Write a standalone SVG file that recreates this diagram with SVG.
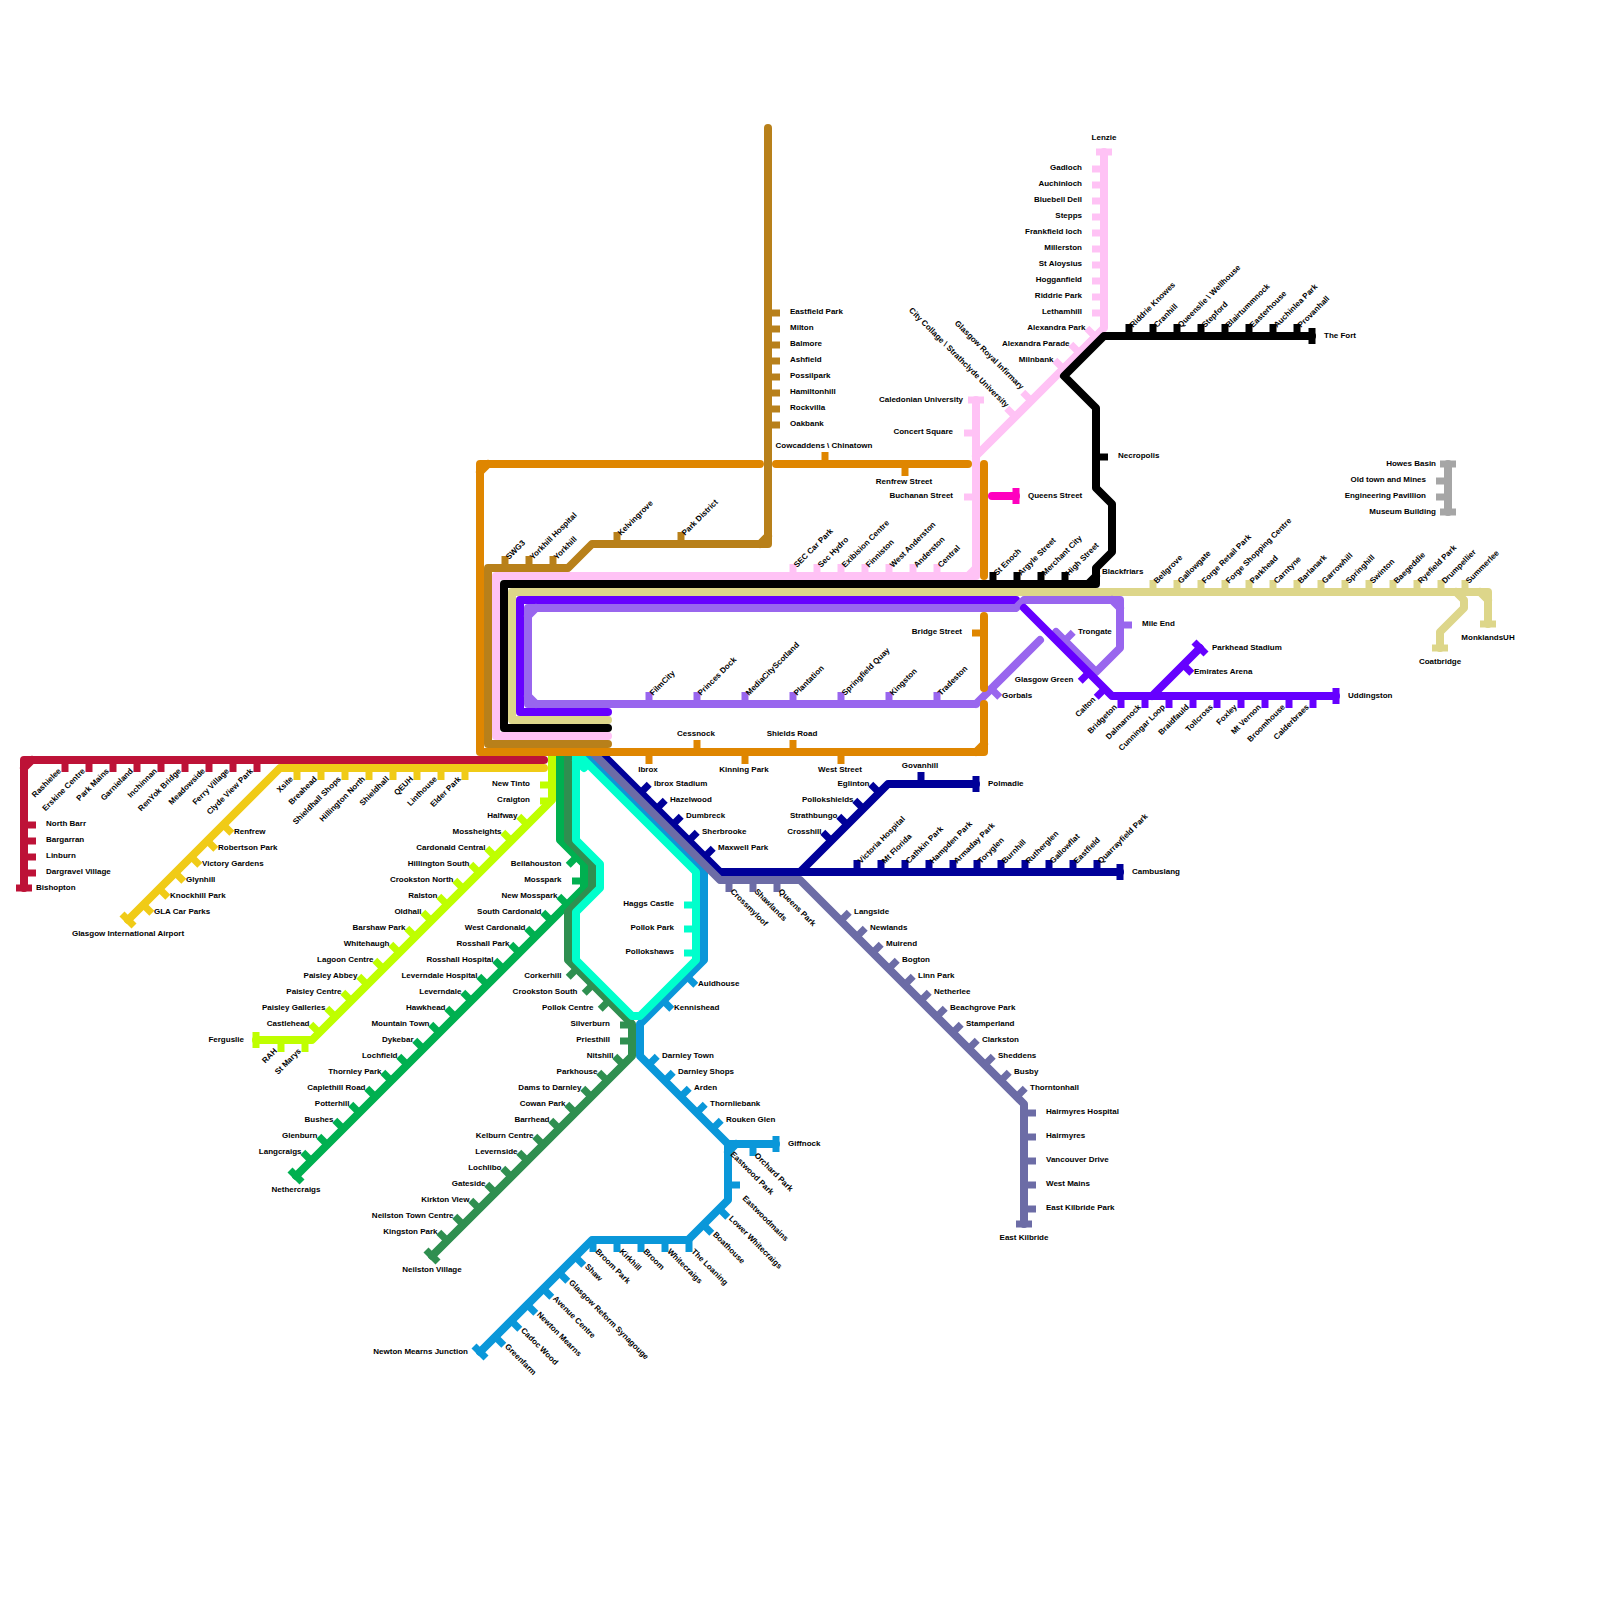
<svg xmlns="http://www.w3.org/2000/svg" width="1600" height="1600" viewBox="0 0 1600 1600">
<style>
rect.bg{fill:#fff}
.l{fill:none;stroke-width:8;stroke-linecap:round;stroke-linejoin:round}
.k{fill:none;stroke-width:7}
.v{transform:translateX(1px)}.h{transform:translateY(1px)}.sw{transform:translate(-.7px,.7px)}.se{transform:translate(.7px,.7px)}
text{font:bold 8px "Liberation Sans",Arial,sans-serif;fill:#000}
.e{text-anchor:end}
.m{text-anchor:middle}
.red{stroke:#bd1237}.yel{stroke:#f0cb17}.lim{stroke:#bfff00}.grn{stroke:#00b050}.dkg{stroke:#2f8f50}.cya{stroke:#00ffcc}.blu{stroke:#0a97d9}.sla{stroke:#6c6ca6}.nav{stroke:#000099}.org{stroke:#df8600}.brn{stroke:#b8801a}.pnk{stroke:#ffc2f5}.blk{stroke:#000}.tan{stroke:#ddd68a}.vio{stroke:#6600ff}.pur{stroke:#9966ee}.mag{stroke:#ff00bf}.gry{stroke:#a6a6a6}
</style>
<rect class="bg" width="1600" height="1600"/>
<g id="connectors">
<path class="l nav" d="M600 752L720 872H1120M800 872L888 784H976"/>
<path class="l blu" d="M584 752L704 872V960L640 1024V1056L728 1144H776M728 1144V1200L688 1240H592L480 1352M736 1144L728 1152"/>
<path class="l sla" d="M592 752L720 880H800L1024 1104V1224"/>
<path class="l grn" d="M560 752V840L584 864V888L296 1176"/>
<path class="l dkg" d="M568 752V840L592 864V888L568 912V960L632 1024V1056L432 1256"/>
<path class="l cya" d="M576 752V840L600 864V888L576 912V960L632 1016H640L696 960V872L576 752M576 760L584 768"/>
<path class="l lim" d="M552 752V800L312 1040H256"/>
<path class="l yel" d="M544 768H280L128 920"/>
<path class="l red" d="M544 760H24V888M32 760L24 768"/>
<path class="l pnk" d="M608 736H496V576H976V400M968 576L976 568M976 456L1104 328V152"/>
<path class="l blk" d="M608 728H504V584H1096V568L1112 552V504L1096 488V408L1064 376L1104 336H1312M1088 584L1096 576"/>
<path class="l tan" d="M608 720H512V592H1488V624M1480 592L1488 600M1456 592L1464 600V608L1440 632V648"/>
<path class="l vio" d="M608 712H520V600H1016"/>
<path class="l pur" d="M976 704H528V608H1016L1024 600H1120V648L1096 672L1056 632M528 616L536 608M528 696L536 704M1112 600L1120 608M976 704L1040 640"/>
<path class="l vio" d="M1024 608L1112 696H1336M1152 696L1200 648"/>
<path class="l mag" d="M992 496H1016"/>
<path class="l gry" d="M1448 464V512"/>
<path class="l brn" d="M608 744H488V568H568L592 544H768V128M760 544L768 536"/>
<path class="l org" d="M760 464H480V752H984V704M488 464L480 472M976 752L984 744"/>
<path class="l org" d="M776 464H968"/>
<path class="l org" d="M984 464V576"/>
<path class="l org" d="M984 616V688"/>
</g>
<g id="red-stations">
<g id="rashielee"><path class="k red v" d="M64 760v12"/><text transform="translate(61.5 771.5)rotate(-45)" class="e">Rashielee</text></g>
<g id="erskine-centre"><path class="k red v" d="M88 760v12"/><text transform="translate(85.5 771.5)rotate(-45)" class="e">Erskine Centre</text></g>
<g id="park-mains"><path class="k red v" d="M112 760v12"/><text transform="translate(109.5 771.5)rotate(-45)" class="e">Park Mains</text></g>
<g id="garnieland"><path class="k red v" d="M136 760v12"/><text transform="translate(133.5 771.5)rotate(-45)" class="e">Garnieland</text></g>
<g id="inchinnan"><path class="k red v" d="M160 760v12"/><text transform="translate(157.5 771.5)rotate(-45)" class="e">Inchinnan</text></g>
<g id="renyok-bridge"><path class="k red v" d="M184 760v12"/><text transform="translate(181.5 771.5)rotate(-45)" class="e">RenYok Bridge</text></g>
<g id="meadowside"><path class="k red v" d="M208 760v12"/><text transform="translate(205.5 771.5)rotate(-45)" class="e">Meadowside</text></g>
<g id="ferry-village"><path class="k red v" d="M232 760v12"/><text transform="translate(229.5 771.5)rotate(-45)" class="e">Ferry Village</text></g>
<g id="clyde-view-park"><path class="k red v" d="M256 760v12"/><text transform="translate(253.5 771.5)rotate(-45)" class="e">Clyde View Park</text></g>
<g id="north-barr"><path class="k red h" d="M24 824h12"/><text x="46" y="826">North Barr</text></g>
<g id="bargarran"><path class="k red h" d="M24 840h12"/><text x="46" y="842">Bargarran</text></g>
<g id="linburn"><path class="k red h" d="M24 856h12"/><text x="46" y="858">Linburn</text></g>
<g id="dargravel-village"><path class="k red h" d="M24 872h12"/><text x="46" y="874">Dargravel Village</text></g>
<g id="bishopton"><path class="k red" d="M16 888h16"/><text x="36" y="890">Bishopton</text></g>
</g>
<g id="yellow-stations">
<g id="xsite"><path class="k yel v" d="M296 768v12"/><text transform="translate(293.5 779.5)rotate(-45)" class="e">Xsite</text></g>
<g id="breahead"><path class="k yel v" d="M320 768v12"/><text transform="translate(317.5 779.5)rotate(-45)" class="e">Breahead</text></g>
<g id="shieldhall-shops"><path class="k yel v" d="M344 768v12"/><text transform="translate(341.5 779.5)rotate(-45)" class="e">Shieldhall Shops</text></g>
<g id="hillington-north"><path class="k yel v" d="M368 768v12"/><text transform="translate(365.5 779.5)rotate(-45)" class="e">Hillington North</text></g>
<g id="shieldhall"><path class="k yel v" d="M392 768v12"/><text transform="translate(389.5 779.5)rotate(-45)" class="e">Shieldhall</text></g>
<g id="qeuh"><path class="k yel v" d="M416 768v12"/><text transform="translate(413.5 779.5)rotate(-45)" class="e">QEUH</text></g>
<g id="linthouse"><path class="k yel v" d="M440 768v12"/><text transform="translate(437.5 779.5)rotate(-45)" class="e">Linthouse</text></g>
<g id="elder-park"><path class="k yel v" d="M464 768v12"/><text transform="translate(461.5 779.5)rotate(-45)" class="e">Elder Park</text></g>
<g id="renfrew"><path class="k yel sw" d="M224 824l8.5 8.5"/><text x="234" y="834">Renfrew</text></g>
<g id="robertson-park"><path class="k yel sw" d="M208 840l8.5 8.5"/><text x="218" y="850">Robertson Park</text></g>
<g id="victory-gardens"><path class="k yel sw" d="M192 856l8.5 8.5"/><text x="202" y="866">Victory Gardens</text></g>
<g id="glynhill"><path class="k yel sw" d="M176 872l8.5 8.5"/><text x="186" y="882">Glynhill</text></g>
<g id="knockhill-park"><path class="k yel sw" d="M160 888l8.5 8.5"/><text x="170" y="898">Knockhill Park</text></g>
<g id="gla-car-parks"><path class="k yel sw" d="M144 904l8.5 8.5"/><text x="154" y="914">GLA Car Parks</text></g>
<g id="glasgow-airport"><path class="k yel" d="M122 914l12 12"/><text x="128" y="936" class="m">Glasgow International Airport</text></g>
</g>
<g id="lime-stations">
<g id="new-tinto"><path class="k lim h" d="M552 784h-12"/><text x="530" y="786" class="e">New Tinto</text></g>
<g id="craigton"><path class="k lim h" d="M552 800h-12"/><text x="530" y="802" class="e">Craigton</text></g>
<g id="halfway"><path class="k lim sw" d="M528 824l-8.5-8.5"/><text x="517.5" y="818" class="e">Halfway</text></g>
<g id="mossheights"><path class="k lim sw" d="M512 840l-8.5-8.5"/><text x="501.5" y="834" class="e">Mossheights</text></g>
<g id="cardonald-central"><path class="k lim sw" d="M496 856l-8.5-8.5"/><text x="485.5" y="850" class="e">Cardonald Central</text></g>
<g id="hillington-south"><path class="k lim sw" d="M480 872l-8.5-8.5"/><text x="469.5" y="866" class="e">Hillington South</text></g>
<g id="crookston-north"><path class="k lim sw" d="M464 888l-8.5-8.5"/><text x="453.5" y="882" class="e">Crookston North</text></g>
<g id="ralston"><path class="k lim sw" d="M448 904l-8.5-8.5"/><text x="437.5" y="898" class="e">Ralston</text></g>
<g id="oldhall"><path class="k lim sw" d="M432 920l-8.5-8.5"/><text x="421.5" y="914" class="e">Oldhall</text></g>
<g id="barshaw-park"><path class="k lim sw" d="M416 936l-8.5-8.5"/><text x="405.5" y="930" class="e">Barshaw Park</text></g>
<g id="whitehaugh"><path class="k lim sw" d="M400 952l-8.5-8.5"/><text x="389.5" y="946" class="e">Whitehaugh</text></g>
<g id="lagoon-centre"><path class="k lim sw" d="M384 968l-8.5-8.5"/><text x="373.5" y="962" class="e">Lagoon Centre</text></g>
<g id="paisley-abbey"><path class="k lim sw" d="M368 984l-8.5-8.5"/><text x="357.5" y="978" class="e">Paisley Abbey</text></g>
<g id="paisley-centre"><path class="k lim sw" d="M352 1000l-8.5-8.5"/><text x="341.5" y="994" class="e">Paisley Centre</text></g>
<g id="paisley-galleries"><path class="k lim sw" d="M336 1016l-8.5-8.5"/><text x="325.5" y="1010" class="e">Paisley Galleries</text></g>
<g id="castlehead"><path class="k lim sw" d="M320 1032l-8.5-8.5"/><text x="309.5" y="1026" class="e">Castlehead</text></g>
<g id="ferguslie"><path class="k lim" d="M256 1032v16"/><text x="244" y="1042" class="e">Ferguslie</text></g>
<g id="rah"><path class="k lim v" d="M280 1040v12"/><text transform="translate(277.5 1051.5)rotate(-45)" class="e">RAH</text></g>
<g id="st-marys"><path class="k lim v" d="M304 1040v12"/><text transform="translate(301.5 1051.5)rotate(-45)" class="e">St Marys</text></g>
</g>
<g id="green-stations">
<g id="bellahouston"><path class="k grn se" d="M576 856l-8.5 8.5"/><text x="561.5" y="866" class="e">Bellahouston</text></g>
<g id="mosspark"><path class="k grn h" d="M584 880h-12"/><text x="561.5" y="882" class="e">Mosspark</text></g>
<g id="new-mosspark"><path class="k grn sw" d="M568 904l-8.5-8.5"/><text x="557.5" y="898" class="e">New Mosspark</text></g>
<g id="south-cardonald"><path class="k grn sw" d="M552 920l-8.5-8.5"/><text x="541.5" y="914" class="e">South Cardonald</text></g>
<g id="west-cardonald"><path class="k grn sw" d="M536 936l-8.5-8.5"/><text x="525.5" y="930" class="e">West Cardonald</text></g>
<g id="rosshall-park"><path class="k grn sw" d="M520 952l-8.5-8.5"/><text x="509.5" y="946" class="e">Rosshall Park</text></g>
<g id="rosshall-hospital"><path class="k grn sw" d="M504 968l-8.5-8.5"/><text x="493.5" y="962" class="e">Rosshall Hospital</text></g>
<g id="leverndale-hospital"><path class="k grn sw" d="M488 984l-8.5-8.5"/><text x="477.5" y="978" class="e">Leverndale Hospital</text></g>
<g id="leverndale"><path class="k grn sw" d="M472 1000l-8.5-8.5"/><text x="461.5" y="994" class="e">Leverndale</text></g>
<g id="hawkhead"><path class="k grn sw" d="M456 1016l-8.5-8.5"/><text x="445.5" y="1010" class="e">Hawkhead</text></g>
<g id="mountain-town"><path class="k grn sw" d="M440 1032l-8.5-8.5"/><text x="429.5" y="1026" class="e">Mountain Town</text></g>
<g id="dykebar"><path class="k grn sw" d="M424 1048l-8.5-8.5"/><text x="413.5" y="1042" class="e">Dykebar</text></g>
<g id="lochfield"><path class="k grn sw" d="M408 1064l-8.5-8.5"/><text x="397.5" y="1058" class="e">Lochfield</text></g>
<g id="thornley-park"><path class="k grn sw" d="M392 1080l-8.5-8.5"/><text x="381.5" y="1074" class="e">Thornley Park</text></g>
<g id="caplethill-road"><path class="k grn sw" d="M376 1096l-8.5-8.5"/><text x="365.5" y="1090" class="e">Caplethill Road</text></g>
<g id="potterhill"><path class="k grn sw" d="M360 1112l-8.5-8.5"/><text x="349.5" y="1106" class="e">Potterhill</text></g>
<g id="bushes"><path class="k grn sw" d="M344 1128l-8.5-8.5"/><text x="333.5" y="1122" class="e">Bushes</text></g>
<g id="glenburn"><path class="k grn sw" d="M328 1144l-8.5-8.5"/><text x="317.5" y="1138" class="e">Glenburn</text></g>
<g id="langcraigs"><path class="k grn sw" d="M312 1160l-8.5-8.5"/><text x="301.5" y="1154" class="e">Langcraigs</text></g>
<g id="nethercraigs"><path class="k grn" d="M290 1170l12 12"/><text x="296" y="1192" class="m">Nethercraigs</text></g>
</g>
<g id="dkgreen-stations">
<g id="corkerhill"><path class="k dkg se" d="M576 968l-8.5 8.5"/><text x="561.5" y="978" class="e">Corkerhill</text></g>
<g id="crookston-south"><path class="k dkg se" d="M592 984l-8.5 8.5"/><text x="577.5" y="994" class="e">Crookston South</text></g>
<g id="pollok-centre"><path class="k dkg se" d="M608 1000l-8.5 8.5"/><text x="593.5" y="1010" class="e">Pollok Centre</text></g>
<g id="silverburn"><path class="k dkg h" d="M632 1024h-12"/><text x="610" y="1026" class="e">Silverburn</text></g>
<g id="priesthill"><path class="k dkg h" d="M632 1040h-12"/><text x="610" y="1042" class="e">Priesthill</text></g>
<g id="nitshill"><path class="k dkg sw" d="M624 1064l-8.5-8.5"/><text x="613.5" y="1058" class="e">Nitshill</text></g>
<g id="parkhouse"><path class="k dkg sw" d="M608 1080l-8.5-8.5"/><text x="597.5" y="1074" class="e">Parkhouse</text></g>
<g id="dams-to-darnley"><path class="k dkg sw" d="M592 1096l-8.5-8.5"/><text x="581.5" y="1090" class="e">Dams to Darnley</text></g>
<g id="cowan-park"><path class="k dkg sw" d="M576 1112l-8.5-8.5"/><text x="565.5" y="1106" class="e">Cowan Park</text></g>
<g id="barrhead"><path class="k dkg sw" d="M560 1128l-8.5-8.5"/><text x="549.5" y="1122" class="e">Barrhead</text></g>
<g id="kelburn-centre"><path class="k dkg sw" d="M544 1144l-8.5-8.5"/><text x="533.5" y="1138" class="e">Kelburn Centre</text></g>
<g id="levernside"><path class="k dkg sw" d="M528 1160l-8.5-8.5"/><text x="517.5" y="1154" class="e">Levernside</text></g>
<g id="lochlibo"><path class="k dkg sw" d="M512 1176l-8.5-8.5"/><text x="501.5" y="1170" class="e">Lochlibo</text></g>
<g id="gateside"><path class="k dkg sw" d="M496 1192l-8.5-8.5"/><text x="485.5" y="1186" class="e">Gateside</text></g>
<g id="kirkton-view"><path class="k dkg sw" d="M480 1208l-8.5-8.5"/><text x="469.5" y="1202" class="e">Kirkton View</text></g>
<g id="neilston-town-centre"><path class="k dkg sw" d="M464 1224l-8.5-8.5"/><text x="453.5" y="1218" class="e">Neilston Town Centre</text></g>
<g id="kingston-park"><path class="k dkg sw" d="M448 1240l-8.5-8.5"/><text x="437.5" y="1234" class="e">Kingston Park</text></g>
<g id="neilston-village"><path class="k dkg" d="M426 1250l12 12"/><text x="432" y="1272" class="m">Neilston Village</text></g>
</g>
<g id="cyan-stations">
<g id="haggs-castle"><path class="k cya h" d="M696 904h-12"/><text x="674" y="906" class="e">Haggs Castle</text></g>
<g id="pollok-park"><path class="k cya h" d="M696 928h-12"/><text x="674" y="930" class="e">Pollok Park</text></g>
<g id="pollokshaws"><path class="k cya h" d="M696 952h-12"/><text x="674" y="954" class="e">Pollokshaws</text></g>
</g>
<g id="blue-stations">
<g id="auldhouse"><path class="k blu sw" d="M688 976l8.5 8.5"/><text x="698" y="986">Auldhouse</text></g>
<g id="kennishead"><path class="k blu sw" d="M664 1000l8.5 8.5"/><text x="674" y="1010">Kennishead</text></g>
<g id="darnley-town"><path class="k blu se" d="M648 1064l8.5-8.5"/><text x="662" y="1058">Darnley Town</text></g>
<g id="darnley-shops"><path class="k blu se" d="M664 1080l8.5-8.5"/><text x="678" y="1074">Darnley Shops</text></g>
<g id="arden"><path class="k blu se" d="M680 1096l8.5-8.5"/><text x="694" y="1090">Arden</text></g>
<g id="thornliebank"><path class="k blu se" d="M696 1112l8.5-8.5"/><text x="710" y="1106">Thornliebank</text></g>
<g id="rouken-glen"><path class="k blu se" d="M712 1128l8.5-8.5"/><text x="726" y="1122">Rouken Glen</text></g>
<g id="giffnock"><path class="k blu" d="M776 1136v16"/><text x="788" y="1146">Giffnock</text></g>
<g id="orchard-park"><path class="k blu v" d="M752 1144v12"/><text transform="translate(754 1156)rotate(45)">Orchard Park</text></g>
<g id="eastwood-park"><text transform="translate(730 1154.7)rotate(45)">Eastwood Park</text></g>
<g id="eastwoodmains"><path class="k blu h" d="M728 1184h12"/><text transform="translate(742 1198.7)rotate(45)">Eastwoodmains</text></g>
<g id="lower-whitecraigs"><path class="k blu sw" d="M720 1208l8.5 8.5"/><text transform="translate(728.5 1219)rotate(45)">Lower Whitecraigs</text></g>
<g id="boathouse"><path class="k blu sw" d="M704 1224l8.5 8.5"/><text transform="translate(712.5 1235)rotate(45)">Boathouse</text></g>
<g id="the-loaning"><path class="k blu v" d="M688 1240v12"/><text transform="translate(691 1252)rotate(45)">The Loaning</text></g>
<g id="whitecraigs"><path class="k blu v" d="M664 1240v12"/><text transform="translate(667 1252)rotate(45)">Whitecraigs</text></g>
<g id="broom"><path class="k blu v" d="M640 1240v12"/><text transform="translate(643 1252)rotate(45)">Broom</text></g>
<g id="kirkhill"><path class="k blu v" d="M616 1240v12"/><text transform="translate(619 1252)rotate(45)">Kirkhill</text></g>
<g id="broom-park"><path class="k blu v" d="M592 1240v12"/><text transform="translate(595 1252)rotate(45)">Broom Park</text></g>
<g id="shaw"><path class="k blu sw" d="M576 1256l8.5 8.5"/><text transform="translate(584.5 1267)rotate(45)">Shaw</text></g>
<g id="glasgow-reform-synagouge"><path class="k blu sw" d="M560 1272l8.5 8.5"/><text transform="translate(568.5 1283)rotate(45)">Glasgow Reform Synagouge</text></g>
<g id="avenue-centre"><path class="k blu sw" d="M544 1288l8.5 8.5"/><text transform="translate(552.5 1299)rotate(45)">Avenue Centre</text></g>
<g id="newton-mearns"><path class="k blu sw" d="M528 1304l8.5 8.5"/><text transform="translate(536.5 1315)rotate(45)">Newton Mearns</text></g>
<g id="cadoc-wood"><path class="k blu sw" d="M512 1320l8.5 8.5"/><text transform="translate(520.5 1331)rotate(45)">Cadoc Wood</text></g>
<g id="greenfarm"><path class="k blu sw" d="M496 1336l8.5 8.5"/><text transform="translate(504.5 1347)rotate(45)">Greenfarm</text></g>
<g id="newton-mearns-junction"><path class="k blu" d="M474 1346l12 12"/><text x="468" y="1354" class="e">Newton Mearns Junction</text></g>
</g>
<g id="slate-stations">
<g id="crossmyloof"><path class="k sla v" d="M728 880v12"/><text transform="translate(730 892)rotate(45)">Crossmyloof</text></g>
<g id="shawlands"><path class="k sla v" d="M752 880v12"/><text transform="translate(754 892)rotate(45)">Shawlands</text></g>
<g id="queens-park"><path class="k sla v" d="M776 880v12"/><text transform="translate(778 892)rotate(45)">Queens Park</text></g>
<g id="langside"><path class="k sla se" d="M840 920l8.5-8.5"/><text x="854" y="914">Langside</text></g>
<g id="newlands"><path class="k sla se" d="M856 936l8.5-8.5"/><text x="870" y="930">Newlands</text></g>
<g id="muirend"><path class="k sla se" d="M872 952l8.5-8.5"/><text x="886" y="946">Muirend</text></g>
<g id="bogton"><path class="k sla se" d="M888 968l8.5-8.5"/><text x="902" y="962">Bogton</text></g>
<g id="linn-park"><path class="k sla se" d="M904 984l8.5-8.5"/><text x="918" y="978">Linn Park</text></g>
<g id="netherlee"><path class="k sla se" d="M920 1000l8.5-8.5"/><text x="934" y="994">Netherlee</text></g>
<g id="beachgrove-park"><path class="k sla se" d="M936 1016l8.5-8.5"/><text x="950" y="1010">Beachgrove Park</text></g>
<g id="stamperland"><path class="k sla se" d="M952 1032l8.5-8.5"/><text x="966" y="1026">Stamperland</text></g>
<g id="clarkston"><path class="k sla se" d="M968 1048l8.5-8.5"/><text x="982" y="1042">Clarkston</text></g>
<g id="sheddens"><path class="k sla se" d="M984 1064l8.5-8.5"/><text x="998" y="1058">Sheddens</text></g>
<g id="busby"><path class="k sla se" d="M1000 1080l8.5-8.5"/><text x="1014" y="1074">Busby</text></g>
<g id="thorntonhall"><path class="k sla se" d="M1016 1096l8.5-8.5"/><text x="1030" y="1090">Thorntonhall</text></g>
<g id="hairmyres-hospital"><path class="k sla h" d="M1024 1112h12"/><text x="1046" y="1114">Hairmyres Hospital</text></g>
<g id="hairmyres"><path class="k sla h" d="M1024 1136h12"/><text x="1046" y="1138">Hairmyres</text></g>
<g id="vancouver-drive"><path class="k sla h" d="M1024 1160h12"/><text x="1046" y="1162">Vancouver Drive</text></g>
<g id="west-mains"><path class="k sla h" d="M1024 1184h12"/><text x="1046" y="1186">West Mains</text></g>
<g id="east-kilbride-park"><path class="k sla h" d="M1024 1208h12"/><text x="1046" y="1210">East Kilbride Park</text></g>
<g id="east-kilbride"><path class="k sla" d="M1016 1224h16"/><text x="1024" y="1240" class="m">East Kilbride</text></g>
</g>
<g id="navy-stations">
<g id="ibrox-stadium"><path class="k nav se" d="M640 792l8.5-8.5"/><text x="654" y="786">Ibrox Stadium</text></g>
<g id="hazelwood"><path class="k nav se" d="M656 808l8.5-8.5"/><text x="670" y="802">Hazelwood</text></g>
<g id="dumbreck"><path class="k nav se" d="M672 824l8.5-8.5"/><text x="686" y="818">Dumbreck</text></g>
<g id="sherbrooke"><path class="k nav se" d="M688 840l8.5-8.5"/><text x="702" y="834">Sherbrooke</text></g>
<g id="maxwell-park"><path class="k nav se" d="M704 856l8.5-8.5"/><text x="718" y="850">Maxwell Park</text></g>
<g id="eglinton"><path class="k nav sw" d="M880 792l-8.5-8.5"/><text x="869.5" y="786" class="e">Eglinton</text></g>
<g id="pollokshields"><path class="k nav sw" d="M864 808l-8.5-8.5"/><text x="853.5" y="802" class="e">Pollokshields</text></g>
<g id="strathbungo"><path class="k nav sw" d="M848 824l-8.5-8.5"/><text x="837.5" y="818" class="e">Strathbungo</text></g>
<g id="crosshill"><path class="k nav sw" d="M832 840l-8.5-8.5"/><text x="821.5" y="834" class="e">Crosshill</text></g>
<g id="govanhill"><path class="k nav v" d="M920 784v-12"/><text x="920" y="768" class="m">Govanhill</text></g>
<g id="polmadie"><path class="k nav" d="M976 776v16"/><text x="988" y="786">Polmadie</text></g>
<g id="victoria-hospital"><path class="k nav v" d="M856 872v-12"/><text transform="translate(861 864)rotate(-45)">Victoria Hospital</text></g>
<g id="mt-florida"><path class="k nav v" d="M880 872v-12"/><text transform="translate(885 864)rotate(-45)">Mt Florida</text></g>
<g id="cathkin-park"><path class="k nav v" d="M904 872v-12"/><text transform="translate(909 864)rotate(-45)">Cathkin Park</text></g>
<g id="hampden-park"><path class="k nav v" d="M928 872v-12"/><text transform="translate(933 864)rotate(-45)">Hampden Park</text></g>
<g id="armaday-park"><path class="k nav v" d="M952 872v-12"/><text transform="translate(957 864)rotate(-45)">Armaday Park</text></g>
<g id="toryglen"><path class="k nav v" d="M976 872v-12"/><text transform="translate(981 864)rotate(-45)">Toryglen</text></g>
<g id="burnhill"><path class="k nav v" d="M1000 872v-12"/><text transform="translate(1005 864)rotate(-45)">Burnhill</text></g>
<g id="rutherglen"><path class="k nav v" d="M1024 872v-12"/><text transform="translate(1029 864)rotate(-45)">Rutherglen</text></g>
<g id="gallowflat"><path class="k nav v" d="M1048 872v-12"/><text transform="translate(1053 864)rotate(-45)">Gallowflat</text></g>
<g id="eastfield"><path class="k nav v" d="M1072 872v-12"/><text transform="translate(1077 864)rotate(-45)">Eastfield</text></g>
<g id="quarrayfield-park"><path class="k nav v" d="M1096 872v-12"/><text transform="translate(1101 864)rotate(-45)">Quarrayfield Park</text></g>
<g id="cambuslang"><path class="k nav" d="M1120 864v16"/><text x="1132" y="874">Cambuslang</text></g>
</g>
<g id="orange-stations">
<g id="cowcaddens"><path class="k org v" d="M824 464v-12"/><text x="824" y="448" class="m">Cowcaddens \ Chinatown</text></g>
<g id="renfrew-street"><path class="k org v" d="M904 464v12"/><text x="904" y="484" class="m">Renfrew Street</text></g>
<g id="bridge-street"><path class="k org h" d="M984 632h-12"/><text x="962" y="634" class="e">Bridge Street</text></g>
<g id="cessnock"><path class="k org v" d="M696 752v-12"/><text x="696" y="736" class="m">Cessnock</text></g>
<g id="shields-road"><path class="k org v" d="M792 752v-12"/><text x="792" y="736" class="m">Shields Road</text></g>
<g id="ibrox"><path class="k org v" d="M648 752v12"/><text x="648" y="772" class="m">Ibrox</text></g>
<g id="kinning-park"><path class="k org v" d="M744 752v12"/><text x="744" y="772" class="m">Kinning Park</text></g>
<g id="west-street"><path class="k org v" d="M840 752v12"/><text x="840" y="772" class="m">West Street</text></g>
</g>
<g id="brown-stations">
<g id="swg3"><path class="k brn v" d="M504 568v-12"/><text transform="translate(509 560)rotate(-45)">SWG3</text></g>
<g id="yorkhill-hospital"><path class="k brn v" d="M528 568v-12"/><text transform="translate(533 560)rotate(-45)">Yorkhill Hospital</text></g>
<g id="yorkhill"><path class="k brn v" d="M552 568v-12"/><text transform="translate(557 560)rotate(-45)">Yorkhill</text></g>
<g id="kelvingrove"><path class="k brn v" d="M616 544v-12"/><text transform="translate(621 536)rotate(-45)">Kelvingrove</text></g>
<g id="park-district"><path class="k brn v" d="M680 544v-12"/><text transform="translate(685 536)rotate(-45)">Park District</text></g>
<g id="eastfield-park"><path class="k brn h" d="M768 312h12"/><text x="790" y="314">Eastfield Park</text></g>
<g id="milton"><path class="k brn h" d="M768 328h12"/><text x="790" y="330">Milton</text></g>
<g id="balmore"><path class="k brn h" d="M768 344h12"/><text x="790" y="346">Balmore</text></g>
<g id="ashfield"><path class="k brn h" d="M768 360h12"/><text x="790" y="362">Ashfield</text></g>
<g id="possilpark"><path class="k brn h" d="M768 376h12"/><text x="790" y="378">Possilpark</text></g>
<g id="hamiltonhill"><path class="k brn h" d="M768 392h12"/><text x="790" y="394">Hamiltonhill</text></g>
<g id="rockvilla"><path class="k brn h" d="M768 408h12"/><text x="790" y="410">Rockvilla</text></g>
<g id="oakbank"><path class="k brn h" d="M768 424h12"/><text x="790" y="426">Oakbank</text></g>
</g>
<g id="pink-stations">
<g id="sec-car-park"><path class="k pnk v" d="M792 576v-12"/><text transform="translate(797 568)rotate(-45)">SEC Car Park</text></g>
<g id="sec-hydro"><path class="k pnk v" d="M816 576v-12"/><text transform="translate(821 568)rotate(-45)">Sec Hydro</text></g>
<g id="exibision-centre"><path class="k pnk v" d="M840 576v-12"/><text transform="translate(845 568)rotate(-45)">Exibision Centre</text></g>
<g id="finniston"><path class="k pnk v" d="M864 576v-12"/><text transform="translate(869 568)rotate(-45)">Finniston</text></g>
<g id="west-anderston"><path class="k pnk v" d="M888 576v-12"/><text transform="translate(893 568)rotate(-45)">West Anderston</text></g>
<g id="anderston"><path class="k pnk v" d="M912 576v-12"/><text transform="translate(917 568)rotate(-45)">Anderston</text></g>
<g id="central"><path class="k pnk v" d="M936 576v-12"/><text transform="translate(941 568)rotate(-45)">Central</text></g>
<g id="buchanan-street"><path class="k pnk h" d="M976 496h-12"/><text x="953" y="498" class="e">Buchanan Street</text></g>
<g id="concert-square"><path class="k pnk h" d="M976 432h-12"/><text x="953" y="434" class="e">Concert Square</text></g>
<g id="caledonian-university"><path class="k pnk" d="M968 400h16"/><text x="963" y="402" class="e">Caledonian University</text></g>
<g id="city-collage"><path class="k pnk sw" d="M1016 416l-8.5-8.5"/><text transform="translate(1005.7 408)rotate(45)" class="e">City Collage \ Strathclyde University</text></g>
<g id="glasgow-royal-infirmary"><path class="k pnk sw" d="M1032 400l-8.5-8.5"/><text transform="translate(1020.7 390)rotate(45)" class="e">Glasgow Royal Infirmary</text></g>
<g id="milnbank"><path class="k pnk sw" d="M1064 368l-8.5-8.5"/><text x="1053.5" y="362" class="e">Milnbank</text></g>
<g id="alexandra-parade"><path class="k pnk sw" d="M1080 352l-8.5-8.5"/><text x="1069.5" y="346" class="e">Alexandra Parade</text></g>
<g id="alexandra-park"><path class="k pnk sw" d="M1096 336l-8.5-8.5"/><text x="1085.5" y="330" class="e">Alexandra Park</text></g>
<g id="lethamhill"><path class="k pnk h" d="M1104 312h-12"/><text x="1082" y="314" class="e">Lethamhill</text></g>
<g id="riddrie-park"><path class="k pnk h" d="M1104 296h-12"/><text x="1082" y="298" class="e">Riddrie Park</text></g>
<g id="hogganfield"><path class="k pnk h" d="M1104 280h-12"/><text x="1082" y="282" class="e">Hogganfield</text></g>
<g id="st-aloysius"><path class="k pnk h" d="M1104 264h-12"/><text x="1082" y="266" class="e">St Aloysius</text></g>
<g id="millerston"><path class="k pnk h" d="M1104 248h-12"/><text x="1082" y="250" class="e">Millerston</text></g>
<g id="frankfield-loch"><path class="k pnk h" d="M1104 232h-12"/><text x="1082" y="234" class="e">Frankfield loch</text></g>
<g id="stepps"><path class="k pnk h" d="M1104 216h-12"/><text x="1082" y="218" class="e">Stepps</text></g>
<g id="bluebell-dell"><path class="k pnk h" d="M1104 200h-12"/><text x="1082" y="202" class="e">Bluebell Dell</text></g>
<g id="auchinloch"><path class="k pnk h" d="M1104 184h-12"/><text x="1082" y="186" class="e">Auchinloch</text></g>
<g id="gadloch"><path class="k pnk h" d="M1104 168h-12"/><text x="1082" y="170" class="e">Gadloch</text></g>
<g id="lenzie"><path class="k pnk" d="M1096 152h16"/><text x="1104" y="140" class="m">Lenzie</text></g>
</g>
<g id="black-stations">
<g id="st-enoch"><path class="k blk v" d="M992 584v-12"/><text transform="translate(997 576)rotate(-45)">St Enoch</text></g>
<g id="argyle-street"><path class="k blk v" d="M1016 584v-12"/><text transform="translate(1021 576)rotate(-45)">Argyle Street</text></g>
<g id="merchant-city"><path class="k blk v" d="M1040 584v-12"/><text transform="translate(1045 576)rotate(-45)">Merchant City</text></g>
<g id="high-street"><path class="k blk v" d="M1064 584v-12"/><text transform="translate(1069 576)rotate(-45)">High Street</text></g>
<g id="blackfriars"><text x="1102" y="574">Blackfriars</text></g>
<g id="necropolis"><path class="k blk h" d="M1096 456h12"/><text x="1118" y="458">Necropolis</text></g>
<g id="riddrie-knowes"><path class="k blk v" d="M1128 336v-12"/><text transform="translate(1133 328)rotate(-45)">Riddrie Knowes</text></g>
<g id="cranhill"><path class="k blk v" d="M1152 336v-12"/><text transform="translate(1157 328)rotate(-45)">Cranhill</text></g>
<g id="queenslie"><path class="k blk v" d="M1176 336v-12"/><text transform="translate(1181 328)rotate(-45)">Queenslie \ Wellhouse</text></g>
<g id="stepford"><path class="k blk v" d="M1200 336v-12"/><text transform="translate(1205 328)rotate(-45)">Stepford</text></g>
<g id="blairtummnock"><path class="k blk v" d="M1224 336v-12"/><text transform="translate(1229 328)rotate(-45)">Blairtummnock</text></g>
<g id="easterhouse"><path class="k blk v" d="M1248 336v-12"/><text transform="translate(1253 328)rotate(-45)">Easterhouse</text></g>
<g id="auchinlea-park"><path class="k blk v" d="M1272 336v-12"/><text transform="translate(1277 328)rotate(-45)">Auchinlea Park</text></g>
<g id="provanhall"><path class="k blk v" d="M1296 336v-12"/><text transform="translate(1301 328)rotate(-45)">Provanhall</text></g>
<g id="the-fort"><path class="k blk" d="M1312 328v16"/><text x="1324" y="338">The Fort</text></g>
</g>
<g id="tan-stations">
<g id="bellgrove"><path class="k tan v" d="M1152 592v-12"/><text transform="translate(1157 584)rotate(-45)">Bellgrove</text></g>
<g id="gallowgate"><path class="k tan v" d="M1176 592v-12"/><text transform="translate(1181 584)rotate(-45)">Gallowgate</text></g>
<g id="forge-retail-park"><path class="k tan v" d="M1200 592v-12"/><text transform="translate(1205 584)rotate(-45)">Forge Retail Park</text></g>
<g id="forge-shopping-centre"><path class="k tan v" d="M1224 592v-12"/><text transform="translate(1229 584)rotate(-45)">Forge Shopping Centre</text></g>
<g id="parkhead"><path class="k tan v" d="M1248 592v-12"/><text transform="translate(1253 584)rotate(-45)">Parkhead</text></g>
<g id="carntyne"><path class="k tan v" d="M1272 592v-12"/><text transform="translate(1277 584)rotate(-45)">Carntyne</text></g>
<g id="barlanark"><path class="k tan v" d="M1296 592v-12"/><text transform="translate(1301 584)rotate(-45)">Barlanark</text></g>
<g id="garrowhill"><path class="k tan v" d="M1320 592v-12"/><text transform="translate(1325 584)rotate(-45)">Garrowhill</text></g>
<g id="springhill"><path class="k tan v" d="M1344 592v-12"/><text transform="translate(1349 584)rotate(-45)">Springhill</text></g>
<g id="swinton"><path class="k tan v" d="M1368 592v-12"/><text transform="translate(1373 584)rotate(-45)">Swinton</text></g>
<g id="baegeddie"><path class="k tan v" d="M1392 592v-12"/><text transform="translate(1397 584)rotate(-45)">Baegeddie</text></g>
<g id="ryefield-park"><path class="k tan v" d="M1416 592v-12"/><text transform="translate(1421 584)rotate(-45)">Ryefield Park</text></g>
<g id="drumpellier"><path class="k tan v" d="M1440 592v-12"/><text transform="translate(1445 584)rotate(-45)">Drumpellier</text></g>
<g id="summerlee"><path class="k tan v" d="M1464 592v-12"/><text transform="translate(1469 584)rotate(-45)">Summerlee</text></g>
<g id="monklandsuh"><path class="k tan" d="M1480 624h16"/><text x="1488" y="640" class="m">MonklandsUH</text></g>
<g id="coatbridge"><path class="k tan" d="M1432 648h16"/><text x="1440" y="664" class="m">Coatbridge</text></g>
</g>
<g id="purple-stations">
<g id="filmcity"><path class="k pur v" d="M648 704v-12"/><text transform="translate(653 696)rotate(-45)">FilmCity</text></g>
<g id="princes-dock"><path class="k pur v" d="M696 704v-12"/><text transform="translate(701 696)rotate(-45)">Princes Dock</text></g>
<g id="mediacityscotland"><path class="k pur v" d="M744 704v-12"/><text transform="translate(749 696)rotate(-45)">MediaCityScotland</text></g>
<g id="plantation"><path class="k pur v" d="M792 704v-12"/><text transform="translate(797 696)rotate(-45)">Plantation</text></g>
<g id="springfield-quay"><path class="k pur v" d="M840 704v-12"/><text transform="translate(845 696)rotate(-45)">Springfield Quay</text></g>
<g id="kingston"><path class="k pur v" d="M888 704v-12"/><text transform="translate(893 696)rotate(-45)">Kingston</text></g>
<g id="tradeston"><path class="k pur v" d="M936 704v-12"/><text transform="translate(941 696)rotate(-45)">Tradeston</text></g>
<g id="gorbals"><path class="k pur sw" d="M992 688l8.5 8.5"/><text x="1002" y="698">Gorbals</text></g>
<g id="trongate"><path class="k pur se" d="M1064 640l8.5-8.5"/><text x="1078" y="634">Trongate</text></g>
<g id="mile-end"><path class="k pur h" d="M1120 624h12"/><text x="1142" y="626">Mile End</text></g>
</g>
<g id="violet-stations">
<g id="glasgow-green"><path class="k vio se" d="M1088 672l-8.5 8.5"/><text x="1073.5" y="682" class="e">Glasgow Green</text></g>
<g id="calton"><path class="k vio se" d="M1104 688l-8.5 8.5"/><text transform="translate(1096 700)rotate(-45)" class="e">Calton</text></g>
<g id="bridgeton"><path class="k vio v" d="M1120 696v12"/><text transform="translate(1117.5 707.5)rotate(-45)" class="e">Bridgeton</text></g>
<g id="dalmarnock"><path class="k vio v" d="M1144 696v12"/><text transform="translate(1141.5 707.5)rotate(-45)" class="e">Dalmarnock</text></g>
<g id="cunningar-loop"><path class="k vio v" d="M1168 696v12"/><text transform="translate(1165.5 707.5)rotate(-45)" class="e">Cunningar Loop</text></g>
<g id="braidfauld"><path class="k vio v" d="M1192 696v12"/><text transform="translate(1189.5 707.5)rotate(-45)" class="e">Braidfauld</text></g>
<g id="tollcross"><path class="k vio v" d="M1216 696v12"/><text transform="translate(1213.5 707.5)rotate(-45)" class="e">Tollcross</text></g>
<g id="foxley"><path class="k vio v" d="M1240 696v12"/><text transform="translate(1237.5 707.5)rotate(-45)" class="e">Foxley</text></g>
<g id="mt-vernon"><path class="k vio v" d="M1264 696v12"/><text transform="translate(1261.5 707.5)rotate(-45)" class="e">Mt Vernon</text></g>
<g id="broomhouse"><path class="k vio v" d="M1288 696v12"/><text transform="translate(1285.5 707.5)rotate(-45)" class="e">Broomhouse</text></g>
<g id="calderbraes"><path class="k vio v" d="M1312 696v12"/><text transform="translate(1309.5 707.5)rotate(-45)" class="e">Calderbraes</text></g>
<g id="uddingston"><path class="k vio" d="M1336 688v16"/><text x="1348" y="698">Uddingston</text></g>
<g id="emirates-arena"><path class="k vio sw" d="M1184 664l8.5 8.5"/><text x="1194" y="674">Emirates Arena</text></g>
<g id="parkhead-stadium"><path class="k vio" d="M1194 642l12 12"/><text x="1212" y="650">Parkhead Stadium</text></g>
</g>
<g id="queens-street"><path class="k mag" d="M1016 488v16"/><text x="1028" y="498">Queens Street</text></g>
<g id="grey-stations">
<g id="howes-basin"><path class="k gry" d="M1440 464h16"/><text x="1436" y="466" class="e">Howes Basin</text></g>
<g id="old-town-and-mines"><path class="k gry h" d="M1448 480h-12"/><text x="1426" y="482" class="e">Old town and Mines</text></g>
<g id="engineering-pavillion"><path class="k gry h" d="M1448 496h-12"/><text x="1426" y="498" class="e">Engineering Pavillion</text></g>
<g id="museum-building"><path class="k gry" d="M1440 512h16"/><text x="1436" y="514" class="e">Museum Building</text></g>
</g>
</svg>
